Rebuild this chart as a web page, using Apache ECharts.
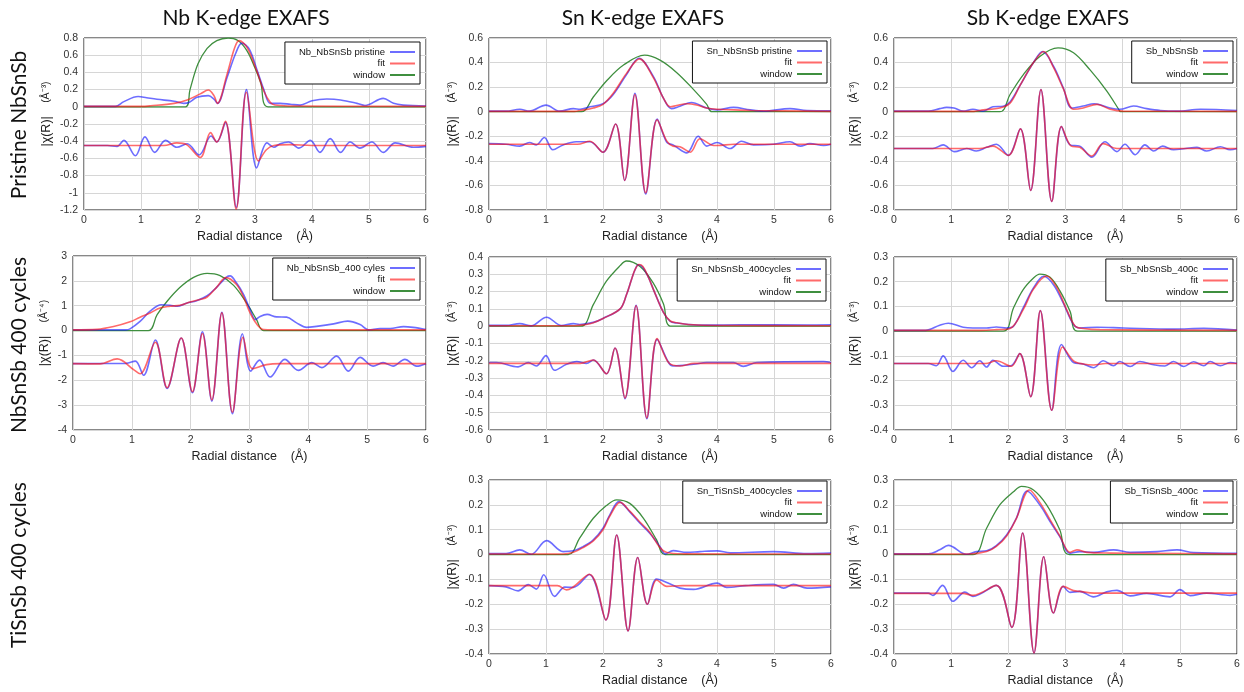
<!DOCTYPE html>
<html>
<head>
<meta charset="utf-8">
<script src="https://cdn.jsdelivr.net/npm/echarts@6/dist/echarts.min.js"></script>
<style>
html,body{margin:0;padding:0;background:#fff;}
#chart{width:1244px;height:692px;}
</style>
</head>
<body>
<div id="chart"></div>
<script>
// ---------- DATA (x = radial distance in Å, y = |χ(R)| or offset real part) ----------
const columnTitles = ['Nb K-edge EXAFS', 'Sn K-edge EXAFS', 'Sb K-edge EXAFS'];
const rowTitles = ['Pristine NbSnSb', 'NbSnSb 400 cycles', 'TiSnSb 400 cycles'];
const seriesNames = ['Nb_NbSnSb pristine', 'Sn_NbSnSb pristine', 'Sb_NbSnSb', 'Nb_NbSnSb_400 cyles',
  'Sn_NbSnSb_400cycles', 'Sb_NbSnSb_400c', 'Sn_TiSnSb_400cycles', 'Sb_TiSnSb_400c'];
const yUnits = ['Å⁻³', 'Å⁻³', 'Å⁻³', 'Å⁻⁴', 'Å⁻³', 'Å⁻³', 'Å⁻³', 'Å⁻³'];
const yMin = [-1.2, -0.8, -0.8, -4, -0.6, -0.4, -0.4, -0.4];
const yMax = [0.8, 0.6, 0.6, 3, 0.4, 0.3, 0.3, 0.3];
const yStep = [0.2, 0.2, 0.2, 1, 0.1, 0.1, 0.1, 0.1];
const xTicks = [0, 1, 2, 3, 4, 5, 6];

// Panel 1: Nb K-edge, pristine NbSnSb
const p1Mag = [[0,0.005],[0.55,0.005],[0.7,0.06],[0.95,0.12],[1.1,0.105],[1.28,0.087],[1.58,0.064],[1.75,0.04],[1.84,0.05],[1.98,0.11],[2.18,0.13],[2.28,0.09],[2.34,0.04],[2.51,0.34],[2.66,0.62],[2.77,0.74],[2.9,0.67],[3.04,0.42],[3.15,0.21],[3.27,0.04],[3.44,0.04],[3.62,0.03],[3.79,0.02],[4.0,0.07],[4.26,0.09],[4.5,0.08],[4.79,0.04],[4.93,0.015],[5.25,0.098],[5.43,0.04],[5.6,0.02],[6,0.01]];
const p1Fit = [[0,0.005],[1.0,0.005],[1.17,0.012],[1.58,0.04],[1.81,0.08],[2.04,0.15],[2.18,0.195],[2.28,0.13],[2.34,0.04],[2.51,0.38],[2.64,0.68],[2.72,0.77],[2.86,0.69],[3.04,0.40],[3.15,0.19],[3.27,0.05],[3.35,0.02],[3.6,0.01],[6,0.005]];
const p1Win = [[0,0],[1.78,0],[1.86,0.2],[2.0,0.5],[2.16,0.68],[2.33,0.77],[2.53,0.8],[2.7,0.77],[2.86,0.65],[3.0,0.45],[3.1,0.28],[3.23,0],[6,0]];
const p1Re = [[0,-0.45],[0.41,-0.45],[0.58,-0.46],[0.7,-0.39],[0.9,-0.57],[1.07,-0.35],[1.24,-0.53],[1.43,-0.39],[1.63,-0.47],[1.81,-0.43],[2.02,-0.56],[2.23,-0.34],[2.33,-0.41],[2.48,-0.18],[2.67,-1.17],[2.85,0.2],[3.03,-0.71],[3.21,-0.42],[3.33,-0.47],[3.44,-0.43],[3.59,-0.41],[3.77,-0.48],[3.97,-0.39],[4.14,-0.53],[4.32,-0.37],[4.5,-0.53],[4.67,-0.41],[4.84,-0.48],[5.05,-0.41],[5.25,-0.53],[5.46,-0.42],[5.78,-0.47],[6,-0.46]];
const p1FitRe = [[0,-0.45],[1.4,-0.45],[1.63,-0.42],[1.8,-0.44],[2.04,-0.59],[2.22,-0.3],[2.33,-0.41],[2.48,-0.17],[2.67,-1.19],[2.85,0.17],[3.06,-0.63],[3.2,-0.5],[3.33,-0.45],[3.6,-0.44],[4,-0.45],[6,-0.45]];

// Panel 2: Sn K-edge, pristine NbSnSb
const p2Mag = [[0,0.005],[0.3,0.005],[0.54,0.02],[0.71,0.005],[1.0,0.054],[1.24,0.005],[1.48,0.025],[1.6,0.02],[1.77,0.04],[2.0,0.065],[2.18,0.14],[2.41,0.30],[2.63,0.435],[2.88,0.29],[3.06,0.11],[3.2,0.025],[3.35,0.045],[3.55,0.075],[3.82,0.03],[4.0,0.015],[4.29,0.035],[4.58,0.015],[4.82,0.005],[5.28,0.025],[5.58,0.01],[6,0.008]];
const p2Fit = [[0,0.003],[1.5,0.003],[1.6,0.01],[1.83,0.03],[2.0,0.06],[2.18,0.15],[2.41,0.31],[2.64,0.43],[2.88,0.28],[3.06,0.11],[3.18,0.04],[3.29,0.05],[3.47,0.065],[3.64,0.055],[3.82,0.03],[4.0,0.02],[4.3,0.015],[4.6,0.01],[6,0.003]];
const p2Win = [[0,0],[1.62,0],[1.83,0.12],[2.06,0.25],[2.36,0.38],[2.73,0.46],[3.0,0.42],[3.29,0.32],[3.59,0.18],[3.82,0.06],[3.91,0],[6,0]];
const p2Re = [[0,-0.26],[0.3,-0.265],[0.54,-0.28],[0.71,-0.25],[0.83,-0.27],[0.97,-0.21],[1.12,-0.31],[1.3,-0.27],[1.53,-0.245],[1.77,-0.245],[2.0,-0.33],[2.22,-0.10],[2.38,-0.56],[2.56,0.15],[2.75,-0.67],[2.95,-0.06],[3.12,-0.25],[3.23,-0.27],[3.47,-0.335],[3.67,-0.20],[3.82,-0.28],[4.0,-0.25],[4.23,-0.30],[4.43,-0.24],[4.64,-0.27],[4.99,-0.265],[5.28,-0.245],[5.46,-0.28],[5.63,-0.26],[5.87,-0.275],[6,-0.265]];
const p2FitRe = [[0,-0.265],[1.55,-0.265],[1.77,-0.24],[2.0,-0.33],[2.22,-0.10],[2.38,-0.56],[2.56,0.14],[2.75,-0.66],[2.95,-0.065],[3.12,-0.24],[3.23,-0.28],[3.35,-0.285],[3.53,-0.33],[3.7,-0.22],[3.9,-0.27],[4.0,-0.275],[4.3,-0.265],[6,-0.265]];

// Panel 3: Sb K-edge, pristine NbSnSb
const p3Mag = [[0,0.005],[0.6,0.005],[0.8,0.025],[0.92,0.035],[1.05,0.03],[1.21,0.005],[1.38,0.02],[1.56,0.005],[1.73,0.04],[1.91,0.045],[2.03,0.08],[2.2,0.21],[2.44,0.40],[2.6,0.49],[2.79,0.37],[2.96,0.195],[3.11,0.03],[3.31,0.046],[3.5,0.065],[3.78,0.03],[3.95,0.02],[4.19,0.046],[4.42,0.025],[4.66,0.01],[4.95,0.005],[5.36,0.02],[6,0.01]];
const p3Fit = [[0,0.003],[1.4,0.003],[1.56,0.015],[1.85,0.03],[2.03,0.07],[2.2,0.21],[2.44,0.40],[2.62,0.49],[2.79,0.36],[2.96,0.19],[3.14,0.02],[3.31,0.03],[3.55,0.06],[3.78,0.02],[4.01,0.005],[6,0.003]];
const p3Win = [[0,0],[1.85,0],[2.03,0.14],[2.26,0.30],[2.55,0.45],[2.87,0.52],[3.14,0.48],[3.43,0.34],[3.72,0.17],[3.93,0.02],[3.96,0],[6,0]];
const p3Re = [[0,-0.30],[0.68,-0.30],[0.86,-0.27],[1.06,-0.325],[1.27,-0.30],[1.44,-0.32],[1.62,-0.29],[1.79,-0.265],[2.0,-0.355],[2.21,-0.14],[2.39,-0.64],[2.57,0.18],[2.76,-0.73],[2.93,-0.12],[3.08,-0.27],[3.25,-0.28],[3.46,-0.37],[3.69,-0.245],[3.9,-0.325],[4.04,-0.265],[4.22,-0.35],[4.39,-0.27],[4.54,-0.32],[4.7,-0.28],[4.89,-0.31],[5.1,-0.30],[5.3,-0.29],[5.47,-0.32],[5.71,-0.285],[5.88,-0.31],[6,-0.30]];
const p3FitRe = [[0,-0.30],[1.5,-0.30],[1.73,-0.28],[2.0,-0.355],[2.21,-0.14],[2.39,-0.64],[2.57,0.18],[2.76,-0.73],[2.93,-0.12],[3.1,-0.28],[3.25,-0.29],[3.46,-0.36],[3.66,-0.26],[3.9,-0.30],[6,-0.30]];

// Panel 4: Nb K-edge, NbSnSb 400 cycles
const p4Mag = [[0,0.03],[0.9,0.03],[0.97,0.07],[1.14,0.37],[1.31,0.78],[1.5,1.04],[1.65,1.02],[1.77,0.98],[1.94,1.11],[2.1,1.2],[2.28,1.4],[2.44,1.74],[2.61,2.15],[2.67,2.2],[2.78,1.91],[2.9,1.45],[3.01,0.84],[3.1,0.44],[3.18,0.57],[3.3,0.65],[3.46,0.55],[3.63,0.54],[3.8,0.31],[3.97,0.13],[4.14,0.17],[4.43,0.27],[4.67,0.38],[4.88,0.24],[5.02,0.03],[5.22,0.08],[5.39,0.08],[5.62,0.16],[5.78,0.13],[6,0.04]];
const p4Fit = [[0,0.03],[0.41,0.05],[0.69,0.16],[0.97,0.35],[1.14,0.54],[1.31,0.71],[1.48,0.91],[1.65,0.98],[1.82,1.02],[1.99,1.15],[2.16,1.25],[2.28,1.35],[2.44,1.74],[2.6,2.13],[2.78,1.85],[2.9,1.34],[3.01,0.71],[3.12,0.27],[3.24,0.04],[3.4,0.03],[6,0.03]];
const p4Win = [[0,0],[1.28,0],[1.43,0.64],[1.6,1.18],[1.82,1.74],[2.05,2.14],[2.28,2.3],[2.5,2.21],[2.73,1.82],[2.95,1.11],[3.12,0.44],[3.24,0],[6,0]];
const p4Re = [[0,-1.33],[0.9,-1.32],[1.06,-1.23],[1.2,-1.8],[1.4,-0.38],[1.6,-2.33],[1.84,-0.3],[2.03,-2.5],[2.2,-0.05],[2.36,-2.84],[2.53,0.74],[2.71,-3.34],[2.88,-0.13],[3.02,-1.63],[3.17,-1.19],[3.35,-1.87],[3.6,-1.16],[3.83,-1.6],[4.06,-1.29],[4.23,-1.49],[4.48,-1.03],[4.68,-1.63],[4.88,-1.08],[5.1,-1.43],[5.27,-1.29],[5.44,-1.43],[5.64,-1.16],[5.84,-1.43],[6,-1.33]];
const p4FitRe = [[0,-1.33],[0.46,-1.34],[0.75,-1.14],[1.03,-1.57],[1.14,-1.74],[1.4,-0.47],[1.6,-2.3],[1.84,-0.3],[2.03,-2.46],[2.2,-0.12],[2.36,-2.79],[2.53,0.71],[2.71,-3.28],[2.89,-0.27],[3.05,-1.53],[3.29,-1.37],[3.52,-1.33],[6,-1.33]];

// Panel 5: Sn K-edge, NbSnSb 400 cycles
const p5Mag = [[0,0.005],[0.3,0.005],[0.54,0.015],[0.74,0.002],[1.01,0.052],[1.27,0.004],[1.48,0.015],[1.59,0.01],[1.83,0.022],[2.0,0.045],[2.3,0.10],[2.41,0.18],[2.5,0.27],[2.56,0.325],[2.62,0.355],[2.7,0.34],[2.8,0.28],[2.9,0.2],[3.06,0.08],[3.18,0.028],[3.3,0.018],[3.5,0.01],[3.82,0.006],[4.41,0.008],[5.58,0.007],[6,0.008]];
const p5Fit = [[0,0.003],[1.5,0.003],[1.7,0.01],[1.83,0.02],[2.0,0.045],[2.3,0.10],[2.41,0.18],[2.5,0.27],[2.56,0.325],[2.63,0.357],[2.7,0.345],[2.8,0.28],[2.9,0.2],[3.06,0.08],[3.18,0.03],[3.3,0.02],[3.5,0.01],[4,0.004],[6,0.003]];
const p5Win = [[0,0],[1.61,0],[1.83,0.125],[2.06,0.26],[2.3,0.35],[2.41,0.377],[2.65,0.345],[2.88,0.25],[3.06,0.13],[3.2,0],[6,0]];
const p5Re = [[0,-0.21],[0.13,-0.21],[0.51,-0.235],[0.69,-0.21],[0.83,-0.23],[1.0,-0.17],[1.15,-0.255],[1.36,-0.22],[1.54,-0.205],[1.71,-0.215],[1.83,-0.195],[2.06,-0.275],[2.21,-0.126],[2.385,-0.419],[2.58,0.121],[2.77,-0.535],[2.95,-0.076],[3.15,-0.21],[3.23,-0.23],[3.59,-0.22],[3.82,-0.21],[4.29,-0.21],[4.46,-0.232],[4.7,-0.21],[5.87,-0.205],[6,-0.21]];
const p5FitRe = [[0,-0.215],[1.6,-0.215],[1.83,-0.195],[2.06,-0.275],[2.21,-0.126],[2.385,-0.415],[2.58,0.118],[2.77,-0.53],[2.95,-0.072],[3.15,-0.21],[3.35,-0.23],[3.6,-0.215],[6,-0.215]];

// Panel 6: Sb K-edge, NbSnSb 400 cycles
const p6Mag = [[0,0.003],[0.55,0.003],[0.8,0.024],[0.95,0.032],[1.21,0.016],[1.38,0.013],[1.62,0.013],[1.79,0.017],[1.97,0.013],[2.09,0.02],[2.26,0.094],[2.44,0.175],[2.62,0.222],[2.79,0.188],[2.96,0.114],[3.14,0.027],[3.25,0.013],[3.55,0.016],[4.01,0.013],[4.89,0.008],[5.42,0.011],[6,0.004]];
const p6Fit = [[0,0.003],[1.5,0.003],[1.79,0.006],[2.03,0.011],[2.26,0.087],[2.44,0.17],[2.67,0.223],[2.84,0.18],[3.02,0.087],[3.17,0.02],[3.31,0.011],[3.6,0.006],[6,0.003]];
const p6Win = [[0,0],[1.91,0],[2.09,0.094],[2.26,0.168],[2.44,0.215],[2.55,0.231],[2.73,0.218],[2.9,0.164],[3.08,0.08],[3.21,0],[6,0]];
const p6Re = [[0,-0.131],[0.6,-0.131],[0.74,-0.14],[0.86,-0.1],[1.03,-0.163],[1.21,-0.118],[1.36,-0.148],[1.5,-0.12],[1.62,-0.145],[1.73,-0.118],[1.91,-0.142],[2.05,-0.14],[2.2,-0.091],[2.39,-0.265],[2.56,0.083],[2.76,-0.32],[2.93,-0.054],[3.14,-0.127],[3.31,-0.133],[3.49,-0.148],[3.66,-0.12],[3.84,-0.14],[3.95,-0.123],[4.13,-0.143],[4.3,-0.123],[4.54,-0.136],[4.74,-0.141],[4.89,-0.123],[5.07,-0.143],[5.24,-0.124],[5.42,-0.14],[5.53,-0.123],[5.71,-0.14],[5.88,-0.127],[6,-0.131]];
const p6FitRe = [[0,-0.131],[1.6,-0.131],[1.79,-0.12],[2.05,-0.142],[2.2,-0.091],[2.39,-0.265],[2.56,0.083],[2.76,-0.32],[2.95,-0.064],[3.14,-0.12],[3.31,-0.133],[3.49,-0.137],[3.7,-0.131],[6,-0.131]];

// Panel 7: Sn K-edge, TiSnSb 400 cycles
const p7Mag = [[0,0.004],[0.3,0.004],[0.54,0.019],[0.74,0.001],[1.01,0.056],[1.3,0.012],[1.48,0.015],[1.65,0.032],[1.83,0.059],[2.0,0.106],[2.12,0.16],[2.28,0.213],[2.47,0.172],[2.65,0.126],[2.82,0.086],[3.0,0.032],[3.09,0.003],[3.23,0.016],[3.47,0.009],[3.7,0.012],[4.0,0.015],[4.23,0.007],[4.99,0.012],[5.58,0.004],[6,0.006]];
const p7Fit = [[0,0.002],[1.3,0.002],[1.48,0.009],[1.65,0.028],[1.83,0.055],[2.0,0.1],[2.12,0.155],[2.3,0.21],[2.47,0.175],[2.65,0.13],[2.82,0.09],[3.0,0.028],[3.12,0.008],[3.4,0.003],[6,0.002]];
const p7Win = [[0,0],[1.39,0],[1.59,0.066],[1.83,0.146],[2.06,0.197],[2.24,0.22],[2.47,0.206],[2.71,0.146],[2.94,0.059],[3.09,0],[6,0]];
const p7Re = [[0,-0.125],[0.3,-0.13],[0.51,-0.146],[0.69,-0.121],[0.83,-0.139],[0.96,-0.081],[1.15,-0.168],[1.33,-0.131],[1.48,-0.132],[1.76,-0.08],[2.05,-0.263],[2.24,0.079],[2.44,-0.307],[2.61,-0.012],[2.78,-0.2],[2.94,-0.098],[3.18,-0.118],[3.35,-0.135],[3.59,-0.14],[4.0,-0.115],[4.17,-0.132],[4.5,-0.125],[4.99,-0.12],[5.17,-0.135],[5.34,-0.12],[5.58,-0.135],[6,-0.13]];
const p7FitRe = [[0,-0.125],[1.2,-0.125],[1.36,-0.142],[1.76,-0.079],[2.05,-0.263],[2.24,0.079],[2.44,-0.307],[2.61,-0.012],[2.78,-0.2],[2.94,-0.102],[3.12,-0.128],[3.4,-0.125],[6,-0.125]];

// Panel 8: Sb K-edge, TiSnSb 400 cycles
const p8Mag = [[0,0.003],[0.6,0.003],[0.8,0.019],[0.95,0.037],[1.27,0.001],[1.44,0.012],[1.62,0.015],[1.79,0.036],[1.97,0.079],[2.14,0.146],[2.33,0.256],[2.55,0.2],[2.73,0.133],[2.9,0.072],[3.08,0.005],[3.25,0.012],[3.49,0.009],[3.84,0.019],[4.13,0.009],[4.6,0.012],[4.95,0.019],[5.24,0.008],[6,0.005]];
const p8Fit = [[0,0.002],[1.3,0.002],[1.62,0.012],[1.79,0.033],[1.97,0.075],[2.14,0.145],[2.37,0.26],[2.55,0.21],[2.73,0.14],[2.9,0.075],[3.08,0.009],[3.2,0.019],[3.37,0.009],[3.8,0.006],[4.5,0.005],[6,0.003]];
const p8Win = [[0,0],[1.38,0],[1.62,0.106],[1.85,0.2],[2.09,0.253],[2.23,0.274],[2.44,0.26],[2.67,0.2],[2.9,0.1],[3.07,0],[6,0]];
const p8Re = [[0,-0.155],[0.6,-0.155],[0.68,-0.164],[0.85,-0.124],[1.03,-0.188],[1.24,-0.151],[1.38,-0.168],[1.79,-0.124],[2.06,-0.293],[2.25,0.087],[2.45,-0.396],[2.62,-0.009],[2.79,-0.235],[2.96,-0.128],[3.08,-0.152],[3.25,-0.148],[3.49,-0.17],[3.72,-0.15],[3.9,-0.144],[4.13,-0.166],[4.42,-0.156],[4.83,-0.17],[5.0,-0.141],[5.18,-0.165],[5.47,-0.155],[5.88,-0.164],[6,-0.16]];
const p8FitRe = [[0,-0.156],[1.2,-0.156],[1.38,-0.164],[1.79,-0.124],[2.06,-0.293],[2.25,0.087],[2.45,-0.396],[2.62,-0.009],[2.79,-0.235],[2.96,-0.128],[3.14,-0.145],[3.25,-0.148],[3.5,-0.155],[6,-0.155]];

// ---------- LAYOUT / STYLE ----------
const panelData = [
  [p1Mag, p1Fit, p1Win, p1Re, p1FitRe],
  [p2Mag, p2Fit, p2Win, p2Re, p2FitRe],
  [p3Mag, p3Fit, p3Win, p3Re, p3FitRe],
  [p4Mag, p4Fit, p4Win, p4Re, p4FitRe],
  [p5Mag, p5Fit, p5Win, p5Re, p5FitRe],
  [p6Mag, p6Fit, p6Win, p6Re, p6FitRe],
  [p7Mag, p7Fit, p7Win, p7Re, p7FitRe],
  [p8Mag, p8Fit, p8Win, p8Re, p8FitRe]
];
const gridBoxes = [
  {left: 84, top: 38, width: 342, height: 172},
  {left: 489, top: 38, width: 342, height: 172},
  {left: 894, top: 38, width: 343, height: 172},
  {left: 73, top: 256, width: 353, height: 174},
  {left: 489, top: 257, width: 342, height: 173},
  {left: 894, top: 257, width: 343, height: 173},
  {left: 489, top: 480, width: 342, height: 174},
  {left: 894, top: 480, width: 343, height: 174}
];
const yNameGaps = [31, 30, 33, 22, 30, 33, 30, 33];
const legendPos = [
  {right: 824, top: 42}, {right: 417, top: 41}, {right: 11, top: 41},
  {right: 824, top: 258}, {right: 418, top: 259}, {right: 11, top: 259},
  {right: 417, top: 481}, {right: 11, top: 481}
];
const BLUE = 'rgba(20,20,255,0.62)';
const RED = 'rgba(255,15,15,0.62)';
const GREEN = '#3f8f3f';
const AXIS_FONT = 'Liberation Sans, Arial, sans-serif';

const grid = [], xAxis = [], yAxis = [], series = [], legend = [];
gridBoxes.forEach(function (g, i) {
  grid.push(Object.assign({show: true, borderColor: '#111', borderWidth: 1, backgroundColor: 'transparent'}, g));
  xAxis.push({
    type: 'value', gridIndex: i, min: xTicks[0], max: xTicks[xTicks.length - 1], interval: 1,
    name: 'Radial distance    (Å)', nameLocation: 'middle', nameGap: 20,
    nameTextStyle: {fontFamily: AXIS_FONT, fontSize: 12.5, color: '#222'},
    axisLine: {show: false}, axisTick: {show: false},
    axisLabel: {fontFamily: AXIS_FONT, fontSize: 10.5, color: '#333', margin: 5},
    splitLine: {show: true, lineStyle: {color: '#d6d6d6', width: 1}}
  });
  yAxis.push({
    type: 'value', gridIndex: i, min: yMin[i], max: yMax[i], interval: yStep[i],
    name: '{a||χ(R)|}    {b|(' + yUnits[i] + ')}', nameLocation: 'middle', nameGap: yNameGaps[i], nameRotate: 90,
    nameTextStyle: {
      fontFamily: AXIS_FONT, color: '#222', padding: [0, 0, 0, 20],
      rich: {a: {fontFamily: AXIS_FONT, fontSize: 12.5, color: '#222'}, b: {fontFamily: AXIS_FONT, fontSize: 10.5, color: '#222'}}
    },
    axisLine: {show: false}, axisTick: {show: false},
    axisLabel: {fontFamily: AXIS_FONT, fontSize: 10.5, color: '#333', margin: 6},
    splitLine: {show: true, lineStyle: {color: '#d6d6d6', width: 1}}
  });
  const d = panelData[i];
  const name = seriesNames[i];
  const mk = function (nm, data, color, w, z) {
    return {
      name: nm, type: 'line', xAxisIndex: i, yAxisIndex: i, data: data,
      symbol: 'none', smooth: 0.35, silent: true, z: z,
      lineStyle: {color: color, width: w}, itemStyle: {color: color}
    };
  };
  series.push(mk('window', d[2], GREEN, 1.3, 2));
  series.push(mk(name, d[0], BLUE, 1.6, 3));
  series.push(mk('fit', d[1], RED, 1.6, 4));
  series.push(mk(name, d[3], BLUE, 1.6, 3));
  series.push(mk('fit', d[4], RED, 1.6, 4));
  legend.push(Object.assign({
    orient: 'vertical', align: 'right', data: [name, 'fit', 'window'],
    selectedMode: false, itemWidth: 25, itemHeight: 10, itemGap: 1.5,
    itemStyle: {opacity: 0, borderWidth: 0},
    padding: [5, 4, 4, 14], borderColor: '#111', borderWidth: 1, backgroundColor: '#fff',
    textStyle: {fontFamily: AXIS_FONT, fontSize: 9.5, color: '#111'}
  }, legendPos[i]));
});

const titleFont = 'Lato, "Open Sans", sans-serif';
const graphic = [];
const titleX = [246, 643, 1048];
columnTitles.forEach(function (t, i) {
  graphic.push({type: 'text', x: titleX[i], y: 18, silent: true,
    style: {text: t, fontFamily: titleFont, fontSize: 21, fill: '#111', align: 'center', verticalAlign: 'middle'}});
});
const rowY = [125, 345, 565];
rowTitles.forEach(function (t, i) {
  graphic.push({type: 'text', x: 19, y: rowY[i], rotation: Math.PI / 2, silent: true,
    style: {text: t, fontFamily: titleFont, fontSize: 21, fill: '#111', align: 'center', verticalAlign: 'middle'}});
});

const chart = echarts.init(document.getElementById('chart'), null, {renderer: 'canvas'});
chart.setOption({
  animation: false,
  backgroundColor: '#fff',
  grid: grid, xAxis: xAxis, yAxis: yAxis, series: series, legend: legend, graphic: graphic
});
</script>
</body>
</html>
